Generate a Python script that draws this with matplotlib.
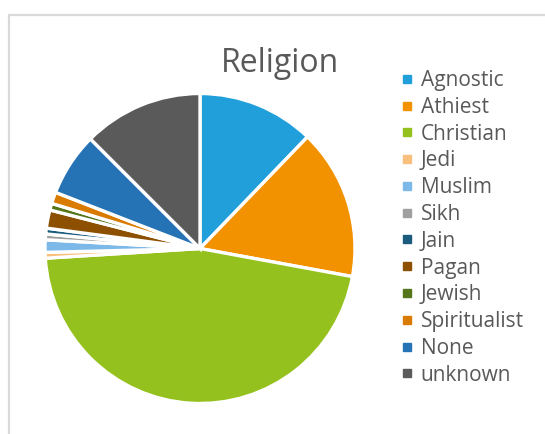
import matplotlib.pyplot as plt
from matplotlib.lines import Line2D
from matplotlib.patches import Rectangle

# share of respondents by religion (percent)
religions = ['Agnostic', 'Athiest', 'Christian', 'Jedi', 'Muslim', 'Sikh',
             'Jain', 'Pagan', 'Jewish', 'Spiritualist', 'None', 'unknown']
shares = [12.2, 15.7, 46.1, 0.6, 1.3, 0.6, 0.6, 1.9, 0.7, 1.2, 6.6, 12.5]
colors = ['#209FDA', '#F29200', '#95C11F', '#F9BF7C', '#7DB9E8', '#A0A0A0',
          '#1B5C7E', '#8C5000', '#55761A', '#D97B00', '#2573B5', '#5A5A5A']

plt.rcParams['font.family'] = ['Open Sans', 'DejaVu Sans']

W, H = 545, 434
fig = plt.figure(figsize=(W / 100, H / 100), dpi=100)

# light grey chart-area frame
fig.patches.append(Rectangle((8.5 / W, -0.2), 2.0, (H - 15) / H + 0.2,
                             transform=fig.transFigure, fill=False,
                             edgecolor='#D9D9D9', linewidth=1.6, zorder=0))

# square axes holding the pie, centre at (200, 248.5) px
R = 155
ax = fig.add_axes([(200 - R) / W, (H - 248.5 - R) / H, 2 * R / W, 2 * R / H])
wedges, _ = ax.pie(shares, colors=colors, startangle=90, counterclock=False,
                   radius=1.0,
                   wedgeprops=dict(edgecolor='white', linewidth=2.4))
ax.set_xlim(-1, 1)
ax.set_ylim(-1, 1)
ax.set_aspect('equal')
ax.axis('off')

fig.text(280.5 / W, (H - 71.7) / H, 'Religion', ha='center', va='baseline',
         fontsize=23, color='#595959')

handles = [Line2D([], [], marker='s', linestyle='none', markersize=5.2,
                  markerfacecolor=c, markeredgecolor=c) for c in colors]
fig.legend(handles, religions, loc='upper left',
           bbox_to_anchor=(401 / W, (H - 70) / H), frameon=False,
           fontsize=15, labelcolor='#595959', handlelength=0.55,
           handletextpad=0.4, labelspacing=0.278, borderpad=0,
           borderaxespad=0)

fig.savefig('out.png', dpi=100)
